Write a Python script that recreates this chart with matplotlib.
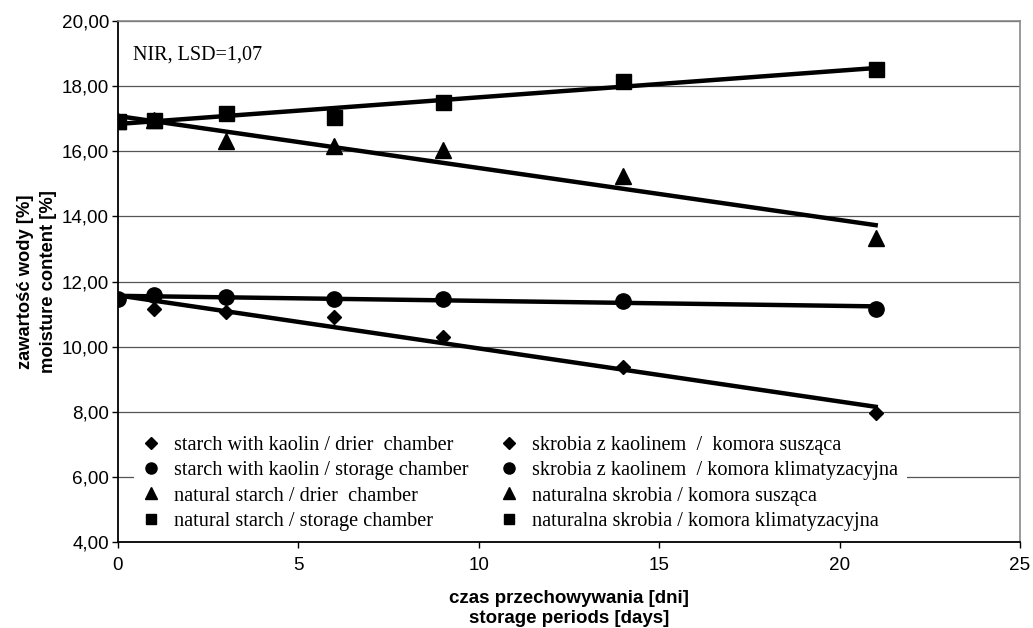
import numpy as np
import matplotlib.pyplot as plt
from matplotlib.lines import Line2D
from matplotlib.ticker import FuncFormatter
plt.switch_backend('Agg')

# storage periods [days]
days = [0, 1, 3, 6, 9, 14, 21]

# moisture content [%]
kaolin_drier = [11.47, 11.16, 11.07, 10.91, 10.30, 9.36, 7.95]
kaolin_storage = [11.47, 11.59, 11.51, 11.47, 11.47, 11.41, 11.17]
natural_drier = [16.92, 16.95, 16.30, 16.17, 16.05, 15.23, 13.33]
natural_storage = [16.92, 16.95, 17.16, 17.06, 17.50, 18.15, 18.54]

labels_en = ['starch with kaolin / drier  chamber',
             'starch with kaolin / storage chamber',
             'natural starch / drier  chamber',
             'natural starch / storage chamber']
labels_pl = ['skrobia z kaolinem  /  komora susząca',
             'skrobia z kaolinem  / komora klimatyzacyjna',
             'naturalna skrobia / komora susząca',
             'naturalna skrobia / komora klimatyzacyjna']

series = [kaolin_drier, kaolin_storage, natural_drier, natural_storage]
markers = ['D', 'o', '^', 's']
sizes = [7.5, 11, 11, 10.8]
legend_sizes = [6, 8, 8.5, 7.5]

fig = plt.figure(figsize=(10.33, 6.28), dpi=100)
ax = fig.add_axes([0.1142, 0.1369, 0.8732, 0.8297])

x = np.array(days, dtype=float)
for values, m, ms in zip(series, markers, sizes):
    y = np.array(values)
    ax.plot(x, y, linestyle='none', marker=m, markersize=ms, color='black', zorder=3)
    # linear trend line (as in the spreadsheet original)
    k, b = np.polyfit(x, y, 1)
    ax.plot([x[0], x[-1]], [b + k * x[0], b + k * x[-1]], color='black', lw=3.2, zorder=2)

ax.set_xlim(0, 25)
ax.set_ylim(4, 20)
ax.set_xticks(range(0, 26, 5))
ax.set_yticks(range(4, 21, 2))
ax.yaxis.set_major_formatter(FuncFormatter(lambda v, p: f'{v:.2f}'.replace('.', ',')))
ax.grid(axis='y', color='#555555', lw=0.9)
ax.set_axisbelow(True)

for side in ['left', 'bottom']:
    ax.spines[side].set_color('black')
    ax.spines[side].set_linewidth(1.3)
for side in ['right', 'top']:
    ax.spines[side].set_color('#888888')
    ax.spines[side].set_linewidth(1.2)

ax.tick_params(axis='both', direction='out', length=4.5, width=1, labelsize=13.6,
               colors='black')
ax.tick_params(axis='y', pad=2)
ax.tick_params(axis='x', pad=6)
for t in ax.get_xticklabels() + ax.get_yticklabels():
    t.set_family('Liberation Sans')

ax.set_xlabel('czas przechowywania [dni]\nstorage periods [days]', fontsize=13.5,
              fontweight='bold', family='Liberation Sans', labelpad=12, linespacing=1.18)
ax.set_ylabel('zawartość wody [%]\nmoisture content [%]', fontsize=13.2,
              fontweight='bold', family='Liberation Sans', labelpad=3, linespacing=1.5)

ax.text(0.0166, 0.935, 'NIR, LSD=1,07', transform=ax.transAxes, fontsize=14.5,
        family='Liberation Serif', va='center', ha='left')

handles = [Line2D([], [], linestyle='none', marker=m, color='black',
                  markersize=ms) for m, ms in zip(markers, legend_sizes)]
leg = ax.legend(handles + handles, labels_en + labels_pl, ncol=2, loc='lower left',
                bbox_to_anchor=(0.0177, 0.004),
                frameon=True, fancybox=False, edgecolor='none', facecolor='white',
                framealpha=1, prop={'family': 'Liberation Serif', 'size': 14.6},
                handlelength=0.8, handletextpad=0.72, labelspacing=0.3,
                borderaxespad=0, borderpad=0.45, columnspacing=1.6)
leg.set_zorder(5)

fig.savefig('out.png', dpi=100)
